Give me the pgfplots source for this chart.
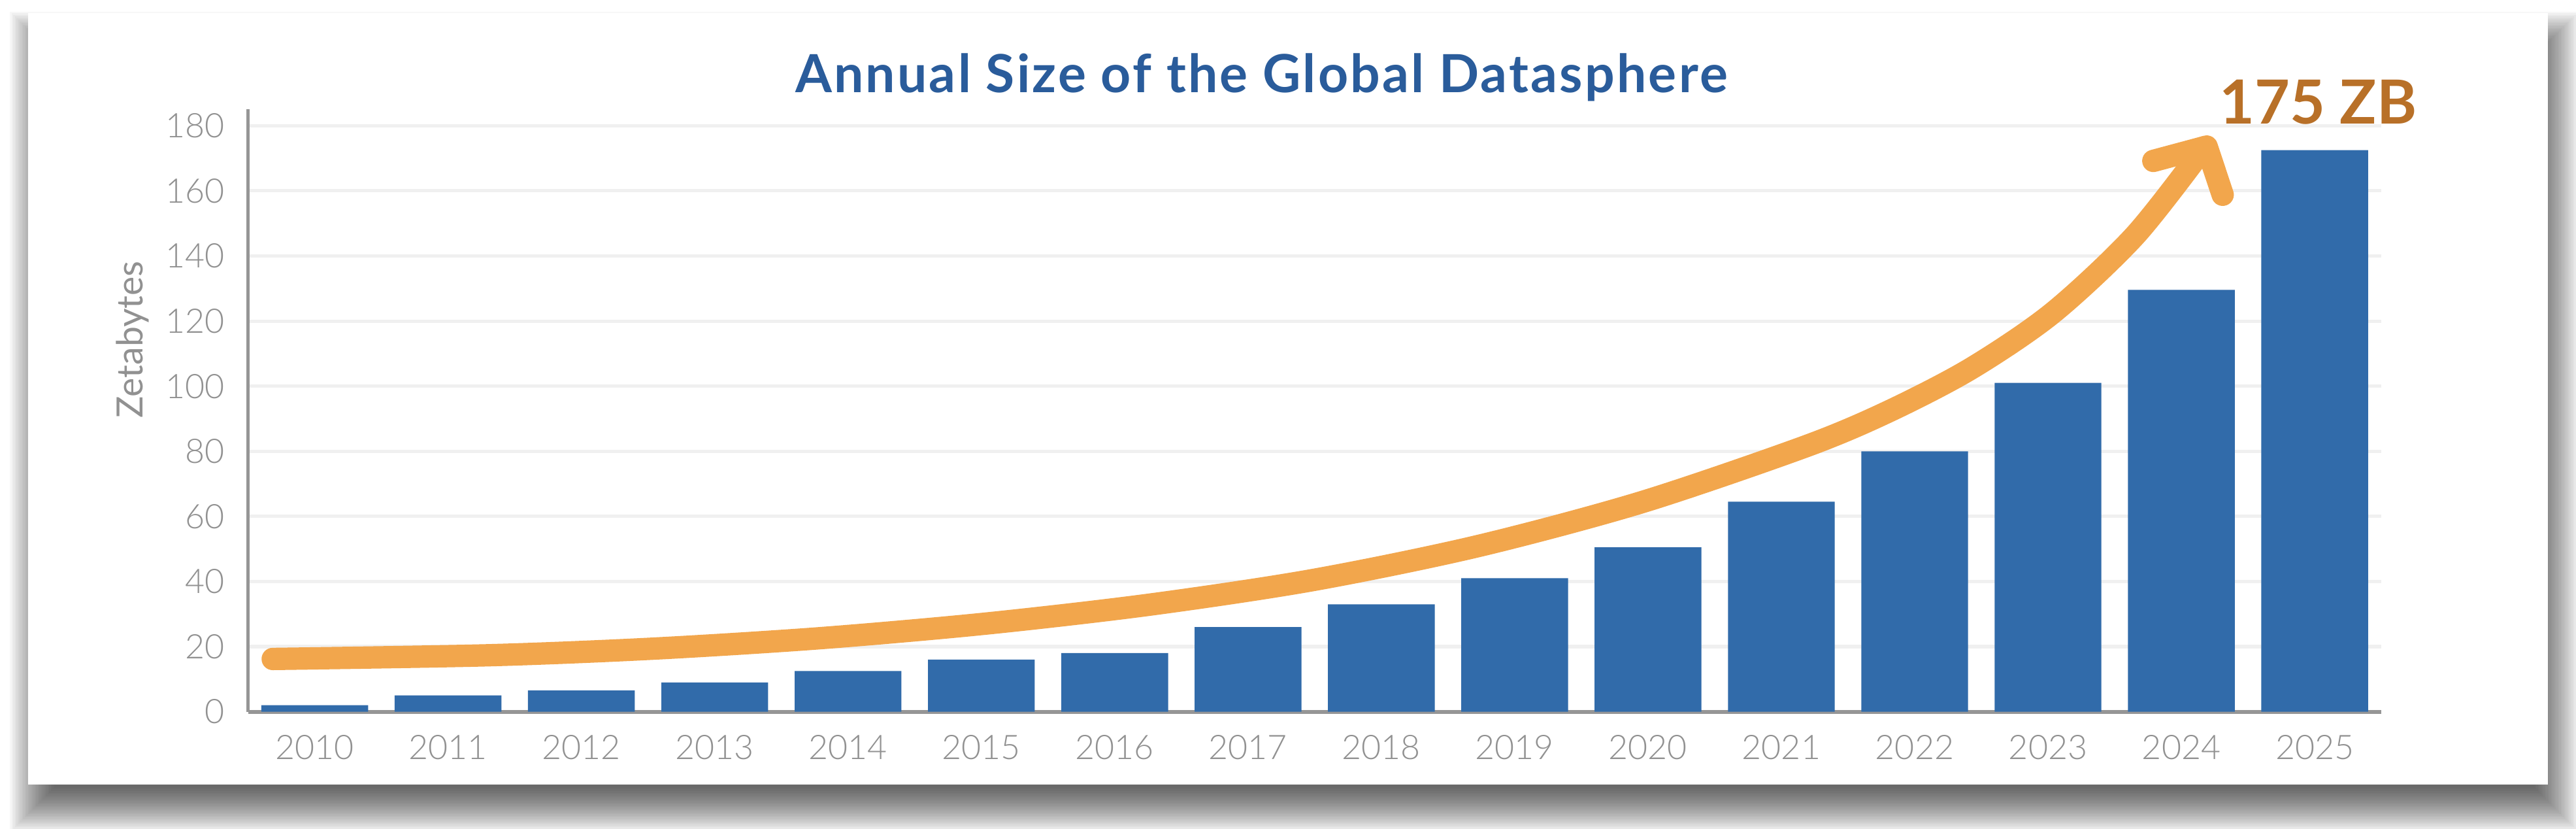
\documentclass[border=0pt]{standalone}
\usepackage{fontspec}
\setmainfont{Lato}
\newfontfamily\titlefont[LetterSpace=4]{Lato}
\newfontfamily\lightfont{Lato Light}
\usepackage{pgfplots}
\pgfplotsset{compat=1.18}
\definecolor{barblue}{RGB}{49,107,170}
\definecolor{titleblue}{RGB}{42,92,155}
\definecolor{zbbrown}{RGB}{184,112,40}
\definecolor{arroworange}{RGB}{242,166,76}
\definecolor{labelgray}{RGB}{145,145,145}
\definecolor{axisgray}{RGB}{150,150,150}
\definecolor{gridgray}{RGB}{240,240,240}
\begin{document}
\begin{tikzpicture}
\useasboundingbox (-75.5pt,-35.5pt) rectangle (708.5pt,216.5pt);
% soft drop shadow of the card
\foreach \i in {0,...,27} {
  \pgfmathsetmacro{\e}{-6+0.5*\i}
  \fill[black, opacity=0.03]
    (-67pt+2pt-\e pt,-22.15pt-7pt-\e pt) rectangle (699.9pt+2pt+\e pt,212.5pt-7pt+\e pt);
}
% card
\fill[white] (-67pt,-22.15pt) rectangle (699.9pt,212.5pt);
\begin{axis}[
  scale only axis,
  width=649.25pt, height=183.2pt,
  xmin=-0.5, xmax=15.5, ymin=0, ymax=185,
  axis x line*=bottom, axis y line*=left,
  x axis line style={draw=axisgray, line width=1.2pt, -},
  y axis line style={draw=axisgray, line width=0.9pt, -},
  xtick={0,1,2,3,4,5,6,7,8,9,10,11,12,13,14,15},
  xticklabels={2010,2011,2012,2013,2014,2015,2016,2017,2018,2019,2020,2021,2022,2023,2024,2025},
  ytick={0,20,40,60,80,100,120,140,160,180},
  major tick length=0pt,
  ymajorgrids,
  grid style={draw=gridgray, line width=1pt},
  tick label style={font=\lightfont\fontsize{10.3}{12}\selectfont, text=labelgray},
  /pgf/number format/assume math mode=true,
  xticklabel style={anchor=center, yshift=-10.8pt},
  yticklabel style={anchor=east, xshift=-3.7pt},
  ylabel={Zetabytes},
  ylabel style={at={(axis description cs:-0.0541,0.618)}, anchor=center, font=\fontsize{11}{13}\selectfont, text=labelgray},
  title={Annual Size of the Global Datasphere},
  title style={at={(axis description cs:0.475,0.9953)}, anchor=base, font=\titlefont\bfseries\fontsize{16}{19}\selectfont, text=titleblue},
  clip=false,
]
\addplot[ybar, bar width=32.5pt, fill=barblue, draw=none] coordinates {
  (0,2) (1,5) (2,6.5) (3,9) (4,12.5) (5,16) (6,18) (7,26) (8,33)
  (9,41) (10,50.5) (11,64.5) (12,80) (13,101) (14,129.6) (15,172.5)
};
\addplot[smooth, draw=arroworange, line width=6.8pt, line cap=round, no markers] coordinates {
  (-0.315,16.2) (1.303,17.34) (2.538,19.37) (3.773,22.53) (5.008,26.96)
  (6.243,32.78) (7.478,40.38) (8.713,50.76) (9.948,64.30) (11.183,81.52)
  (11.800,92.15) (12.418,105.3) (13.035,122.5) (13.653,146.3) (14.172,173.4)
};
\addplot[draw=arroworange, line width=6.8pt, line cap=round, line join=round, no markers] coordinates {
  (13.79,169.2) (14.19,173.6) (14.31,158.8)
};
\node[anchor=base west, inner sep=0pt, font=\bfseries\fontsize{18.5}{20}\selectfont, text=zbbrown] at (axis cs:14.28,180.5) {175 ZB};
\end{axis}
\end{tikzpicture}
\end{document}
